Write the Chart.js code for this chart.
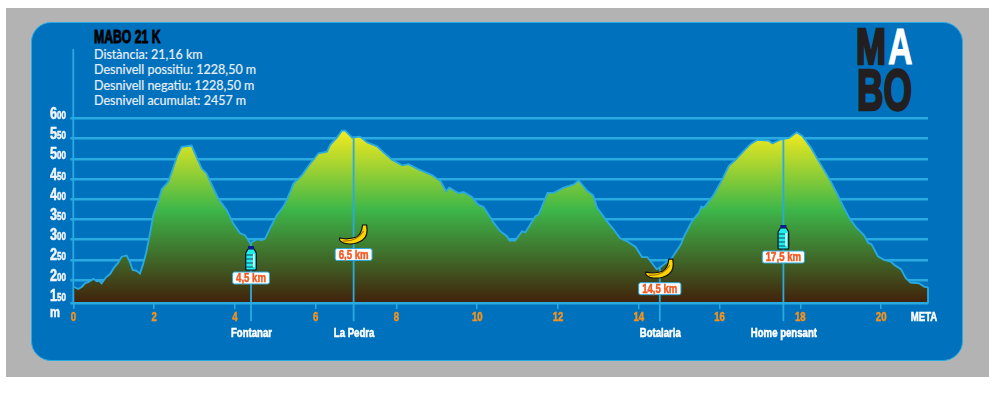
<!DOCTYPE html>
<html>
<head>
<meta charset="utf-8">
<title>MABO 21 K</title>
<style>
  html, body { margin: 0; background: #fff; overflow: hidden; }
  #page { position: relative; width: 1000px; height: 394px; }
  #gray { position: absolute; left: 6px; top: 8px; width: 983px; height: 369px; background: #b3b3b3; }
  #panel { position: absolute; left: 31px; top: 22px; width: 930px; height: 337px; background: #0071bc;
           border: 1px solid #29abe2; border-radius: 20px; }
  #profile { position: absolute; left: 0; top: 0; }
  .t { position: absolute; white-space: nowrap; transform-origin: left top; }
  #title { left: 94px; top: 27px; font: bold 18px/20px "Liberation Sans"; color: #000; -webkit-text-stroke: 0.9px #000; transform: scaleX(.68); }
  .info { left: 94px; font: 12.5px/16px Lato; color: #e6eef6; -webkit-text-stroke: 0.2px #e6eef6; }
  .logo { font-family: "Liberation Sans"; font-weight: bold; color: #231f20; -webkit-text-stroke: 2.5px #231f20; }
</style>
</head>
<body>
<div id="page">
  <div id="gray"></div>
  <div id="panel"></div>
  <div class="t" id="title">MABO 21 K</div>
  <div class="t info" style="top:47px">Distància: 21,16 km</div>
  <div class="t info" style="top:62px">Desnivell possitiu: 1228,50 m</div>
  <div class="t info" style="top:78px">Desnivell negatiu: 1228,50 m</div>
  <div class="t info" style="top:93px">Desnivell acumulat: 2457 m</div>
  <div class="t logo" style="left:856px;top:22px;font-size:50px;line-height:50px;transform:scaleX(.72)">M</div>
  <div class="t logo" style="left:888px;top:22px;font-size:50px;line-height:50px;color:#fff;-webkit-text-stroke:1px #fff;transform:scaleX(.68)">A</div>
  <div class="t logo" style="left:857px;top:61px;font-size:58px;line-height:58px;transform:scaleX(.63)">BO</div>
  <canvas id="profile" width="1000" height="394"></canvas>
</div>

<script src="https://cdn.jsdelivr.net/npm/chart.js@4"></script>
<script>
const kmValues = [0.02, 0.12, 0.21, 0.29, 0.37, 0.50, 0.58, 0.64, 0.70, 0.81, 0.91, 1.01, 1.11, 1.20, 1.32, 1.40, 1.47, 1.57, 1.65, 1.72, 1.80, 1.90, 1.98, 2.11, 2.19,
  2.35, 2.48, 2.56, 2.68, 2.93, 3.05, 3.18, 3.30, 3.47, 3.60, 3.80, 3.96, 4.13, 4.25, 4.38, 4.54, 4.67, 4.75, 4.87, 5.04, 5.20, 5.28, 5.37,
  5.45, 5.66, 5.87, 6.07, 6.28, 6.36, 6.53, 6.65, 6.73, 6.90, 7.10, 7.27, 7.52, 7.68, 7.89, 8.14, 8.30, 8.55, 8.88, 9.09, 9.23, 9.31, 9.54, 9.66, 9.87,
  10.03, 10.16, 10.41, 10.57, 10.74, 10.80, 10.94, 11.11, 11.19, 11.44, 11.52, 11.74, 11.89, 12.14, 12.39, 12.51, 12.72, 12.87, 12.97,
  13.21, 13.38, 13.53, 13.71, 13.92, 14.08, 14.21, 14.44, 14.54, 14.66, 14.79, 15.04, 15.13, 15.32, 15.49, 15.55, 15.61, 15.86,
  16.07, 16.23, 16.40, 16.60, 16.77, 16.93, 17.22, 17.31, 17.51, 17.72, 17.91, 18.05, 18.26, 18.50, 18.75, 18.92, 19.08, 19.21, 19.37, 19.58, 19.68, 19.76, 19.92,
  20.07, 20.24, 20.32, 20.49, 20.61, 20.73, 20.94, 21.06, 21.16];
const elevations = [183, 178, 183, 192, 195, 203, 197, 198, 192, 207, 215, 231, 243, 258, 261, 245, 225, 223, 216, 237, 266, 316, 361, 398, 425,
  443, 480, 505, 530, 533, 505, 476, 464, 427, 400, 373, 340, 316, 311, 291, 301, 299, 303, 328, 361, 382, 398, 419,
  439, 460, 489, 514, 518, 535, 553, 570, 570, 553, 555, 541, 531, 516, 498, 484, 487, 474, 460, 445, 420, 429, 415, 418, 406,
  386, 381, 342, 321, 308, 298, 298, 321, 318, 358, 362, 416, 416, 429, 437, 447, 421, 410, 379,
  346, 325, 304, 296, 282, 257, 257, 227, 232, 242, 250, 288, 310, 346, 367, 382, 379, 412,
  450, 483, 498, 520, 537, 547, 545, 538, 548, 552, 566, 557, 528, 487, 445, 412, 379, 354, 332, 310, 292, 289, 259,
  250, 246, 238, 227, 205, 194, 192, 184, 182];

const xTickValues = [0, 2, 4, 6, 8, 10, 12, 14, 16, 18, 20];
const yTickValues = [150, 200, 250, 300, 350, 400, 450, 500, 550, 600];
const yUnit = 'm';
const finishLabel = 'META';

const markerNames = ['Fontanar', 'La Pedra', 'Botalaria', 'Home pensant'];
const markerKm = [4.40, 6.94, 14.52, 17.58];
const markerElevation = [291, 553, 231, 549];
const markerLabels = ['4,5 km', '6,5 km', '14,5 km', '17,5 km'];
const markerIcons = ['bottle', 'banana', 'banana', 'bottle'];

const yMin = 143.3, yMax = 600, xMax = 21.16;
const axisBlue = '#29abe2';
const chipCenterY = [278, 254.5, 288.7, 257];

// no condensed font installed, so squeeze the bold one by hand
function narrowText(ctx, txt, x, y, size, color, align) {
  const sx = 0.8;
  ctx.save();
  ctx.translate(x, y);
  ctx.scale(sx, 1);
  ctx.font = 'bold ' + size + 'px "Liberation Sans"';
  ctx.textAlign = align || 'center';
  ctx.textBaseline = 'alphabetic';
  ctx.fillStyle = color;
  ctx.strokeStyle = color;
  ctx.lineWidth = 0.5;
  ctx.fillText(txt, 0, 0);
  ctx.strokeText(txt, 0, 0);
  const w = ctx.measureText(txt).width * sx;
  ctx.restore();
  return w;
}

function bottle(ctx, cx, bottom) {
  ctx.save();
  ctx.translate(cx, bottom);
  ctx.lineWidth = 1.2;
  ctx.strokeStyle = '#06121f';
  ctx.fillStyle = '#22eef0';
  ctx.beginPath();
  ctx.moveTo(-3, -21);
  ctx.lineTo(3, -21);
  ctx.lineTo(5.3, -17);
  ctx.lineTo(5.3, -1);
  ctx.quadraticCurveTo(5.3, 0, 4, 0);
  ctx.lineTo(-4, 0);
  ctx.quadraticCurveTo(-5.3, 0, -5.3, -1);
  ctx.lineTo(-5.3, -17);
  ctx.closePath();
  ctx.fill();
  ctx.stroke();
  ctx.fillStyle = '#0b1a8c';
  ctx.fillRect(-3, -24, 6, 3);
  ctx.strokeStyle = '#0a4a55';
  ctx.lineWidth = 1;
  [-15, -11, -7, -3].forEach(function(y) {
    ctx.beginPath();
    ctx.moveTo(-5, y);
    ctx.lineTo(2, y);
    ctx.stroke();
  });
  ctx.fillStyle = '#fff';
  ctx.fillRect(2, -16, 1.5, 13);
  ctx.restore();
}

function banana(ctx, cx, cy) {
  ctx.save();
  ctx.translate(cx, cy);
  ctx.lineWidth = 1.2;
  ctx.strokeStyle = '#111';
  ctx.fillStyle = '#fdd500';
  ctx.beginPath();
  ctx.moveTo(-14, 4);
  ctx.quadraticCurveTo(-6, 6, 3, 3);
  ctx.quadraticCurveTo(8, 0, 9, -9);
  ctx.lineTo(13, -9);
  ctx.quadraticCurveTo(15, 2, 9, 6);
  ctx.quadraticCurveTo(0, 12, -10, 9);
  ctx.quadraticCurveTo(-15, 7, -14, 4);
  ctx.closePath();
  ctx.fill();
  ctx.stroke();
  ctx.strokeStyle = '#a86f00';
  ctx.beginPath();
  ctx.moveTo(-11, 7);
  ctx.quadraticCurveTo(3, 8, 10, -3);
  ctx.stroke();
  ctx.restore();
}

const annotations = {
  id: 'annotations',
  afterDraw(chart) {
    const ctx = chart.ctx, xs = chart.scales.x, ys = chart.scales.y;

    // y labels, big hundreds and small rest
    yTickValues.forEach(function(v) {
      const txt = String(v), y = ys.getPixelForValue(v) + 0.5;
      const w = narrowText(ctx, txt[0], 50, y, 16, '#f2f6fa', 'left');
      narrowText(ctx, txt.slice(1), 50 + w, y, 10, '#f2f6fa', 'left');
    });
    narrowText(ctx, yUnit, 50, 317, 14, '#f2f6fa', 'left');

    xTickValues.forEach(function(v) {
      narrowText(ctx, String(v), xs.getPixelForValue(v), 320.5, 12, '#f7931e');
    });
    narrowText(ctx, finishLabel, 924, 320.5, 12, '#fff');

    markerKm.forEach(function(km, i) {
      const x = xs.getPixelForValue(km), cy = chipCenterY[i];
      narrowText(ctx, markerNames[i], x + 0.5, 337, 12, '#fff');

      ctx.font = 'bold 12px "Liberation Sans"';
      const w = ctx.measureText(markerLabels[i]).width * 0.8 + 7;
      ctx.beginPath();
      ctx.roundRect(x - w / 2, cy - 6, w, 12, 2);
      ctx.fillStyle = '#fff';
      ctx.fill();
      ctx.strokeStyle = axisBlue;
      ctx.lineWidth = 1;
      ctx.stroke();
      narrowText(ctx, markerLabels[i], x, cy + 4.3, 12, '#f15a24');

      if (markerIcons[i] === 'bottle') bottle(ctx, x, cy - 8);
      else banana(ctx, x, cy - 20.5);
    });
  }
};

function profileFill(context) {
  const c = context.chart.ctx;
  const g = c.createLinearGradient(0, 131, 0, 303);
  g.addColorStop(0, '#f4ea1e');
  g.addColorStop(0.46, '#3db649');
  g.addColorStop(1, '#42210b');
  return g;
}

function vline(km, from, to) {
  return {
    data: [{ x: km, y: from }, { x: km, y: to }],
    borderColor: axisBlue,
    borderWidth: 1.8,
    pointRadius: 0,
    fill: false,
    clip: false,
    order: 0
  };
}

const markerLines = markerKm.map(function(km, i) { return vline(km, markerElevation[i], 98); });

new Chart(document.getElementById('profile'), {
  type: 'line',
  data: {
    datasets: [{
      data: kmValues.map(function(km, i) { return { x: km, y: elevations[i] }; }),
      borderColor: axisBlue,
      borderWidth: 1.8,
      backgroundColor: profileFill,
      fill: 'start',
      pointRadius: 0,
      tension: 0,
      order: 1
    },
    vline(0, yMin, 772),
    vline(xMax, elevations[elevations.length - 1], yMin)
    ].concat(markerLines)
  },
  options: {
    responsive: false,
    animation: false,
    events: [],
    layout: { padding: { left: 73.3, right: 72, top: 118.5, bottom: 0 } },
    plugins: { legend: { display: false }, tooltip: { enabled: false } },
    scales: {
      x: {
        type: 'linear',
        min: 0,
        max: xMax,
        afterBuildTicks: function(s) { s.ticks = xTickValues.map(function(v) { return { value: v }; }); },
        afterFit: function(s) { s.height = 91; s.paddingLeft = 0; s.paddingRight = 0; },
        border: { color: axisBlue, width: 2, z: 1 },
        grid: { drawOnChartArea: false, color: axisBlue, lineWidth: 1.5, tickLength: 6 },
        ticks: { display: false, autoSkip: false }
      },
      y: {
        min: yMin,
        max: yMax,
        afterBuildTicks: function(s) {
          s.ticks = [yMin].concat(yTickValues.slice(1)).map(function(v) { return { value: v }; });
        },
        afterFit: function(s) { s.width = 0; },
        border: { display: false },
        grid: { color: axisBlue, lineWidth: 2.5, tickLength: 3 },
        ticks: { display: false }
      }
    }
  },
  plugins: [annotations]
});
</script>
</body>
</html>
